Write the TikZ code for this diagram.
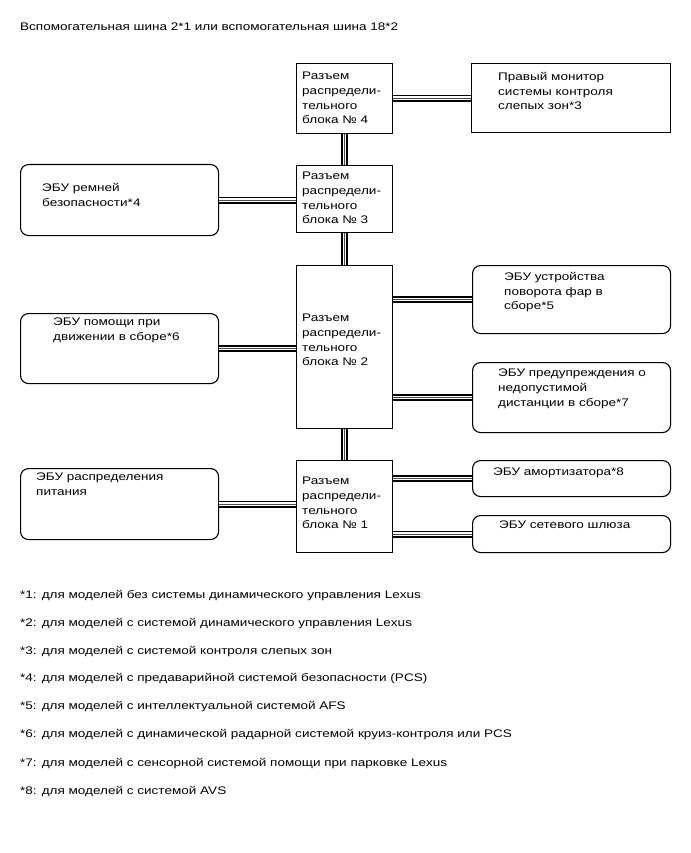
\documentclass[tikz,border=0pt]{standalone}
\usepackage{fontspec}
\setmainfont{Liberation Sans}[FakeStretch=1.23]
\begin{document}
\begin{tikzpicture}[x=1pt,y=-1pt,
  every node/.style={font=\fontsize{11}{14.7}\selectfont},
  txt/.style={anchor=north west, inner sep=0pt, align=left, execute at begin node=\strut},
  blk/.style={draw, line width=1.1pt, anchor=north west, inner sep=0pt, minimum width=96pt},
  ecu/.style={draw, line width=1.1pt, anchor=north west, inner sep=0pt, rounded corners=8pt, minimum width=198pt},
  sq/.style={draw, line width=1.1pt, anchor=north west, inner sep=0pt, minimum width=199pt},
  bus/.style={draw, line width=1.8pt, double=white, double distance=3.4pt},
  busmid/.style={draw=black!70, line width=0.5pt}]
\useasboundingbox (0,0) rectangle (690,853);
\fill[white] (0,0) rectangle (690,853);
% title
\node[txt] (title) at (20,20) {Вспомогательная шина 2*1 или вспомогательная шина 18*2};
% blocks
\node[blk, minimum height=70pt] (b4) at (296,63) {};
\node[blk, minimum height=67pt] (b3) at (296,165) {};
\node[blk, minimum height=163pt] (b2) at (296,265) {};
\node[blk, minimum height=92pt] (b1) at (296,460) {};
% right
\node[sq, minimum height=69pt] (mon) at (471,63) {};
\node[ecu, minimum height=68pt] (hl) at (472,265) {};
\node[ecu, minimum height=70pt] (warn) at (472,362) {};
\node[ecu, minimum height=36pt] (amort) at (472,460) {};
\node[ecu, minimum height=37pt] (gw) at (472,515) {};
% left
\node[ecu, minimum height=71pt] (belt) at (20,164) {};
\node[ecu, minimum height=70pt] (assist) at (20,313) {};
\node[ecu, minimum height=71pt] (power) at (20,468) {};
% texts
\node[txt] (t4) at (302,72) {Разъем\\распредели-\\тельного\\блока № 4};
\node[txt] (t3) at (302,172) {Разъем\\распредели-\\тельного\\блока № 3};
\node[txt] (t2) at (302,314) {Разъем\\распредели-\\тельного\\блока № 2};
\node[txt] (t1) at (302,477) {Разъем\\распредели-\\тельного\\блока № 1};
\node[txt] (tmon) at (498,72) {Правый монитор\\системы контроля\\слепых зон*3};
\node[txt] (thl) at (504,272) {ЭБУ устройства\\поворота фар в\\сборе*5};
\node[txt] (twarn) at (498,369) {ЭБУ предупреждения о\\недопустимой\\дистанции в сборе*7};
\node[txt] (tamort) at (493,465) {ЭБУ амортизатора*8};
\node[txt] (tgw) at (499,518) {ЭБУ сетевого шлюза};
\node[txt] (tbelt) at (42,183) {ЭБУ ремней\\безопасности*4};
\node[txt] (tassist) at (53,318) {ЭБУ помощи при\\движении в сборе*6};
\node[txt] (tpower) at (36,473) {ЭБУ распределения\\питания};
% connectors
\foreach \a/\b in {b4/b3, b3/b2, b2/b1}{
  \draw[bus] (\a.south) -- (\b.north);
  \draw[busmid] (\a.south) -- (\b.north);
}
\foreach \a/\b in {mon/b4, hl/b2, warn/b2, amort/b1, gw/b1}{
  \draw[bus] (\b.east |- \a.west) -- (\a.west);
  \draw[busmid] (\b.east |- \a.west) -- (\a.west);
}
\foreach \a/\b in {belt/b3, assist/b2, power/b1}{
  \draw[bus] (\a.east) -- (\b.west |- \a.east);
  \draw[busmid] (\a.east) -- (\b.west |- \a.east);
}
% footnotes
\foreach \i/\y/\t in {
 1/588/{*1: для моделей без системы динамического управления Lexus},
 2/616/{*2: для моделей с системой динамического управления Lexus},
 3/644/{*3: для моделей с системой контроля слепых зон},
 4/671/{*4: для моделей с предаварийной системой безопасности (PCS)},
 5/699/{*5: для моделей с интеллектуальной системой AFS},
 6/727/{*6: для моделей с динамической радарной системой круиз-контроля или PCS},
 7/756/{*7: для моделей с сенсорной системой помощи при парковке Lexus},
 8/784/{*8: для моделей с системой AVS}}{
  \node[txt] (fn\i) at (20,\y) {\t};
}
\end{tikzpicture}
\end{document}
